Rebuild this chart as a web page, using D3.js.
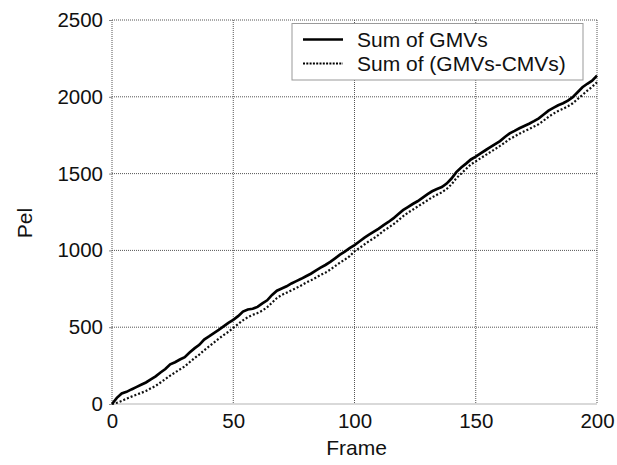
<!DOCTYPE html>
<html><head><meta charset="utf-8">
<script src="https://cdn.jsdelivr.net/npm/d3@7"></script>
<style>body{margin:0;background:#fff}svg{display:block}text{font-family:"Liberation Sans",Arial,sans-serif;fill:#111}</style>
</head><body><svg id="c" width="617" height="465"></svg>
<script>
const frames = d3.range(0, 201, 2);
const sumGMV = [0,40,68,79,95,110,125,140,160,180,205,228,258,272,290,305,335,362,385,420,440,462,482,505,528,548,572,602,615,620,632,655,675,710,738,752,766,785,800,815,832,848,868,888,905,925,948,972,992,1015,1035,1058,1082,1102,1122,1142,1165,1185,1208,1235,1262,1282,1302,1320,1342,1365,1385,1400,1412,1435,1468,1510,1540,1565,1592,1610,1632,1652,1672,1692,1712,1738,1762,1778,1795,1810,1825,1842,1860,1885,1910,1928,1945,1958,1975,1998,2030,2062,2085,2105,2138];
const sumDiff = [0,8,20,35,48,60,72,85,102,118,140,162,185,205,225,245,272,298,322,350,375,400,425,448,470,495,520,545,565,580,592,608,630,660,690,710,725,740,755,772,790,805,822,840,855,875,898,920,940,962,995,1015,1038,1060,1080,1102,1128,1148,1170,1195,1222,1245,1265,1285,1305,1325,1345,1362,1378,1400,1430,1470,1500,1530,1560,1580,1600,1620,1640,1660,1680,1702,1725,1742,1760,1775,1790,1806,1822,1845,1870,1890,1908,1922,1938,1958,1985,2012,2040,2065,2095];
const xTicks = [0,50,100,150,200];
const yTicks = [0,500,1000,1500,2000,2500];
const seriesNames = ["Sum of GMVs","Sum of (GMVs-CMVs)"];

const svg = d3.select("#c");
const L=112,R=597,T=20,B=404;
const x = d3.scaleLinear().domain([0,200]).range([L,R]);
const y = d3.scaleLinear().domain([0,2500]).range([B,T]);

// grid
const g = svg.append("g");
g.selectAll(".vx").data(xTicks).join("line")
  .attr("x1",d=>x(d)).attr("x2",d=>x(d)).attr("y1",T).attr("y2",B)
  .attr("stroke","#555").attr("stroke-width",1).attr("stroke-dasharray","1,1");
g.selectAll(".hy").data(yTicks.filter(d=>d>0)).join("line")
  .attr("x1",L).attr("x2",R).attr("y1",d=>y(d)).attr("y2",d=>y(d))
  .attr("stroke","#555").attr("stroke-width",1).attr("stroke-dasharray","1,1");
g.append("line").attr("x1",L).attr("x2",R).attr("y1",B).attr("y2",B).attr("stroke","#ccc").attr("stroke-width",1.5);

// axes labels
const xa = svg.append("g").attr("transform",`translate(0,${B})`)
  .call(d3.axisBottom(x).tickValues(xTicks).tickSize(0).tickPadding(9).tickFormat(d3.format("d")));
xa.select(".domain").remove();
xa.selectAll("text").style("font-size","20.5px").attr("fill","#111").attr("font-family","Liberation Sans, Arial, sans-serif");
const ya = svg.append("g").attr("transform",`translate(${L},0)`)
  .call(d3.axisLeft(y).tickValues(yTicks).tickSize(3).tickPadding(6).tickFormat(d3.format("d")));
ya.select(".domain").remove();
ya.selectAll("line").attr("stroke","#888");
ya.selectAll("text").style("font-size","20.5px").attr("fill","#111").attr("font-family","Liberation Sans, Arial, sans-serif");

svg.append("text").attr("x",(L+R)/2+2).attr("y",455).attr("text-anchor","middle").style("font-size","21px").text("Frame");
svg.append("text").attr("transform","translate(32,223) rotate(-90)").attr("text-anchor","middle").style("font-size","21px").text("Pel");

// lines
const line = d3.line().x((d,i)=>x(frames[i])).y(d=>y(d));
svg.append("path").datum(sumDiff).attr("d",line).attr("fill","none").attr("stroke","#111").attr("stroke-width",2.2).attr("stroke-dasharray","2,2");
svg.append("path").datum(sumGMV).attr("d",line).attr("fill","none").attr("stroke","#000").attr("stroke-width",2.7);

// legend
const lg = svg.append("g");
lg.append("rect").attr("x",292).attr("y",23.5).attr("width",291).attr("height",56.5).attr("fill","#fff").attr("stroke","#999").attr("stroke-width",1);
const rowsY=[39.5,63.5];
seriesNames.forEach((n,i)=>{
  lg.append("line").attr("x1",303).attr("x2",343).attr("y1",rowsY[i]).attr("y2",rowsY[i])
    .attr("stroke","#000").attr("stroke-width",i===0?2.5:2).attr("stroke-dasharray",i===0?null:"2,1.3");
  lg.append("text").attr("x",357).attr("y",rowsY[i]+7).style("font-size","21px").text(n);
});
</script></body></html>
